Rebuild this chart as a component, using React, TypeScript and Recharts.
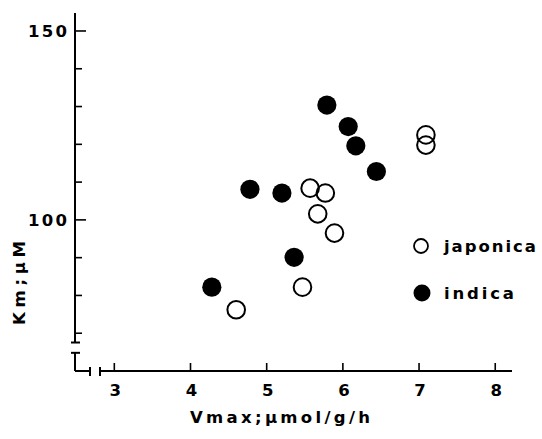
import React from 'react';
import { ScatterChart, Scatter, XAxis, YAxis, ReferenceLine, Legend } from 'recharts';

// ---- data ----
const japonicaX = [7.09, 7.09, 5.57, 5.77, 5.67, 5.89, 5.47, 4.6];
const japonicaY = [122.5, 119.8, 108.4, 107.1, 101.6, 96.5, 82.2, 76.2];
const indicaX = [5.79, 6.07, 6.17, 6.44, 4.78, 5.2, 5.36, 4.28];
const indicaY = [130.4, 124.7, 119.6, 112.8, 108.1, 107.1, 90.1, 82.2];

const xTicks = [3, 4, 5, 6, 7, 8];
const yTicks = [70, 80, 90, 100, 110, 120, 130, 140, 150];
const yLabelled = [100, 150];
const seriesNames = ['japonica', 'indica'];
const xTitle = 'Vmax;μmol/g/h';
const yTitle = 'Km;μM';

const X_DOMAIN: [number, number] = [2.484, 8.22];
const Y_DOMAIN: [number, number] = [60, 154.76];

const japonica = japonicaX.map((x, i) => ({ x, y: japonicaY[i] }));
const indica = indicaX.map((x, i) => ({ x, y: indicaY[i] }));

// axis-break decoration (data units)
const X0 = X_DOMAIN[0];
const Y0 = Y_DOMAIN[0];
const Y_AXIS_END = 67.54;
const Y_BREAK_TOP = 64.81;
const CAP_L = 2.4315;
const CAP_R = 2.5496;
const X_BREAK_L = 2.681;
const X_BREAK_R = 2.812;
const TICK_TOP = 61.06;
const TICK_BOT = 58.68;

const FONT = '"DejaVu Sans", "Liberation Sans", Arial, sans-serif';
const INK = '#000';
const BOLD: React.CSSProperties = { fontWeight: 700, fontFamily: FONT };

const YTick = (props: any) => {
  const { x, y, payload } = props;
  const major = yLabelled.includes(payload.value);
  return (
    <g>
      <line x1={x} x2={x + (major ? 11 : 7)} y1={y} y2={y} stroke={INK} strokeWidth={1.6} />
      {major && (
        <text x={x - 47} y={y + 6} textAnchor="start" style={BOLD} fontSize={16.5}
          fill={INK} textLength={39} lengthAdjust="spacing">
          {payload.value}
        </text>
      )}
    </g>
  );
};

const XTick = (props: any) => {
  const { x, y, payload } = props;
  return (
    <g>
      <line x1={x} x2={x} y1={y} y2={y - 8} stroke={INK} strokeWidth={1.6} />
      <text x={x + 1} y={y + 25} textAnchor="middle" style={BOLD} fontSize={16.5} fill={INK}>
        {payload.value}
      </text>
    </g>
  );
};

const XTitle = (props: any) => {
  const vb = props.viewBox || { x: 75, y: 371, width: 437 };
  const left = vb.x + 115;
  const cy = vb.y + 52;
  return (
    <text x={left} y={cy} textAnchor="start" style={BOLD} fontSize={16.5} fill={INK}
      textLength={180} lengthAdjust="spacing">
      {xTitle}
    </text>
  );
};

const YTitle = () => {
  const cx = 19;
  const cy = 283;
  return (
    <text x={cx} y={cy} dy="0.36em" transform={`rotate(-90 ${cx} ${cy})`} textAnchor="middle" style={BOLD}
      fontSize={16.5} fill={INK} textLength={84} lengthAdjust="spacing">
      {yTitle}
    </text>
  );
};

const OpenDot = (p: any) => <circle cx={p.cx} cy={p.cy} r={8.8} fill="none" stroke={INK} strokeWidth={2} />;
const FilledDot = (p: any) => <circle cx={p.cx} cy={p.cy} r={9.6} fill={INK} stroke="none" />;

const LegendBox = (props: any) => {
  const items = [...(props.payload || [])].sort(
    (a: any, b: any) => seriesNames.indexOf(a.value) - seriesNames.indexOf(b.value)
  );
  return (
    <svg width={137} height={95} style={{ display: 'block', overflow: 'visible' }}>
      {items.map((it: any, i: number) => {
        const open = it.value === seriesNames[0];
        const cy = 21 + i * 47;
        return (
          <g key={it.value}>
            {open ? (
              <circle cx={16} cy={cy} r={7} fill="none" stroke={INK} strokeWidth={1.8} />
            ) : (
              <circle cx={17} cy={cy} r={8.5} fill={INK} />
            )}
            <text x={39} y={cy + 6} style={BOLD} fontSize={16.5} fill={INK}
              textLength={open ? 92 : 70} lengthAdjust="spacing">
              {it.value}
            </text>
          </g>
        );
      })}
    </svg>
  );
};

const seg = (a: [number, number], b: [number, number], key: string) => (
  <ReferenceLine key={key} segment={[{ x: a[0], y: a[1] }, { x: b[0], y: b[1] }]} stroke={INK} strokeWidth={2}
    ifOverflow="visible" />
);

export default function App() {
  return (
    <div style={{ position: 'absolute', left: 0, top: 0, background: '#fff' }}>
      <ScatterChart width={542} height={439} margin={{ top: 13, right: 30, bottom: 0, left: 0 }}>
        <XAxis type="number" dataKey="x" domain={X_DOMAIN} ticks={xTicks} allowDataOverflow height={68}
          axisLine={false} tickLine={false} tickSize={0} tickMargin={0} tick={<XTick />} interval={0}
          label={<XTitle />} />
        <YAxis type="number" dataKey="y" domain={Y_DOMAIN} ticks={yTicks} allowDataOverflow width={75}
          axisLine={false} tickLine={false} tickSize={0} tickMargin={0} tick={<YTick />} interval={0}
          label={<YTitle />} />
        {seg([X0, Y_AXIS_END], [X0, Y_DOMAIN[1]], 'yaxis')}
        {seg([CAP_L, Y_AXIS_END], [CAP_R, Y_AXIS_END], 'cap1')}
        {seg([CAP_L, Y_BREAK_TOP], [CAP_R, Y_BREAK_TOP], 'cap2')}
        {seg([X0, Y_BREAK_TOP], [X0, Y0], 'ystub')}
        {seg([X0, Y0], [X_BREAK_L, Y0], 'xstub')}
        {seg([X_BREAK_L, TICK_TOP], [X_BREAK_L, TICK_BOT], 'xcap1')}
        {seg([X_BREAK_R, TICK_TOP], [X_BREAK_R, TICK_BOT], 'xcap2')}
        {seg([X_BREAK_R, Y0], [X_DOMAIN[1], Y0], 'xaxis')}
        <Scatter name={seriesNames[0]} data={japonica} fill="#fff" stroke={INK} shape={OpenDot}
          isAnimationActive={false} />
        <Scatter name={seriesNames[1]} data={indica} fill={INK} shape={FilledDot} isAnimationActive={false} />
        <Legend layout="vertical" align="center" verticalAlign="middle" content={<LegendBox />}
          wrapperStyle={{ position: 'absolute', left: 405, top: 225, width: 137, height: 95 }} />
      </ScatterChart>
    </div>
  );
}
